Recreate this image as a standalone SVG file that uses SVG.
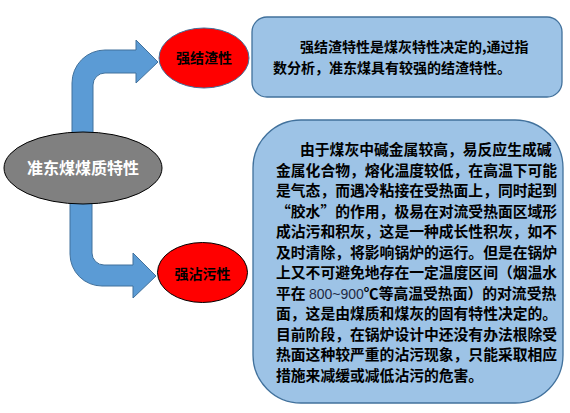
<svg xmlns="http://www.w3.org/2000/svg" width="570" height="413" viewBox="0 0 570 413">
<style>
.arrow{fill:#5B9BD5;stroke:#41719C;stroke-width:1}
.box{fill:#9DC3E6;stroke:#41719C;stroke-width:1.3}
.red{fill:#FF0000}
.t{font-family:"Noto Sans CJK SC","Noto Sans",sans-serif;font-weight:bold;fill:#000}
.lbl{font-family:"Noto Sans CJK SC",sans-serif;font-weight:bold;font-size:14px;text-anchor:middle;fill:#000}
</style>
<rect width="570" height="413" fill="#FFFFFF"/>
<g id="connectors">
<path class="arrow" d="M72 135 L72 83 A33 33 0 0 1 105 50 L136 50 L136 40 L158 62 L136 83 L136 73 L105 73 A12 12 0 0 0 93 85 L93 135 Z"/>
<path class="arrow" d="M70 200 L70 254 A32 32 0 0 0 102 286 L133 286 L133 298 L156 276 L133 253 L133 265 L104 265 A12 12 0 0 1 92 253 L92 200 Z"/>
</g>
<g id="main">
<ellipse cx="83" cy="168" rx="79" ry="36" fill="#808080" stroke="#000" stroke-width="1"/>
<text x="83" y="174" font-family="Noto Sans CJK SC,sans-serif" font-size="16" font-weight="bold" fill="#FFFFFF" text-anchor="middle">准东煤煤质特性</text>
</g>
<g id="slag">
<ellipse class="red" cx="204" cy="58" rx="45" ry="30" stroke="#41719C" stroke-width="1"/>
<text class="lbl" x="204" y="63">强结渣性</text>
</g>
<g id="foul">
<ellipse class="red" cx="202.5" cy="272.5" rx="45" ry="30" stroke="#000" stroke-width="1"/>
<text class="lbl" x="202.5" y="279">强沾污性</text>
</g>
<g id="slag-box">
<rect class="box" x="252" y="17" width="310" height="80" rx="15"/>
<text class="t" font-size="14"><tspan x="300" y="52">强结渣特性是煤灰特性决定的,通过指</tspan><tspan x="273" y="73">数分析，准东煤具有较强的结渣特性。</tspan></text>
</g>
<g id="foul-box">
<rect class="box" x="253" y="120" width="310" height="283" rx="48"/>
<text class="t" font-size="14.8">
<tspan x="300" y="155">由于煤灰中碱金属较高，易反应生成碱</tspan>
<tspan x="276" y="175.5">金属化合物，熔化温度较低，在高温下可能</tspan>
<tspan x="276" y="196">是气态，而遇冷粘接在受热面上，同时起到</tspan>
<tspan x="276" y="216.5">“胶水”的作用，极易在对流受热面区域形</tspan>
<tspan x="276" y="237">成沾污和积灰，这是一种成长性积灰，如不</tspan>
<tspan x="276" y="257.5">及时清除，将影响锅炉的运行。但是在锅炉</tspan>
<tspan x="276" y="278">上又不可避免地存在一定温度区间（烟温水</tspan>
<tspan x="276" y="298.5">平在 <tspan font-family="Liberation Sans,sans-serif" font-weight="normal" font-size="14" fill="#1F2A44">800~900</tspan>℃等高温受热面）的对流受热</tspan>
<tspan x="276" y="319">面，这是由煤质和煤灰的固有特性决定的。</tspan>
<tspan x="276" y="339.5">目前阶段，在锅炉设计中还没有办法根除受</tspan>
<tspan x="276" y="360">热面这种较严重的沾污现象，只能采取相应</tspan>
<tspan x="276" y="380.5">措施来减缓或减低沾污的危害。</tspan>
</text>
</g>
</svg>
